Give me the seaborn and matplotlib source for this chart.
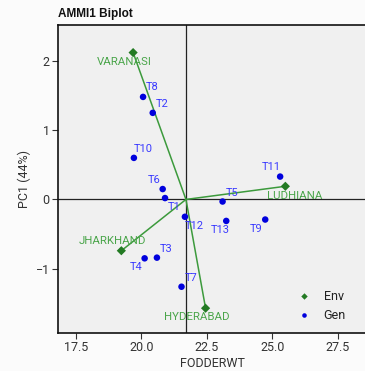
import matplotlib
matplotlib.use("Agg")
import matplotlib.pyplot as plt
import seaborn as sns
import pandas as pd

# Data
env_names = ["VARANASI", "LUDHIANA", "JHARKHAND", "HYDERABAD"]
env_x = [19.68, 25.50, 19.23, 22.45]
env_y = [2.12, 0.19, -0.74, -1.57]

gen_names = ["T1", "T2", "T3", "T4", "T5", "T6", "T7", "T8", "T9", "T10", "T11", "T12", "T13"]
gen_x = [20.90, 20.43, 20.59, 20.12, 23.10, 20.81, 21.53, 20.06, 24.73, 19.71, 25.30, 21.66, 23.24]
gen_y = [0.02, 1.25, -0.84, -0.85, -0.03, 0.15, -1.26, 1.48, -0.29, 0.60, 0.33, -0.25, -0.31]

grand_mean = 21.70
x_ticks = [17.5, 20.0, 22.5, 25.0, 27.5]
y_ticks = [-1, 0, 1, 2]

# label offsets in points (style only)
gen_off = {"T1": (6.5, -6.5), "T2": (6.7, 6.5), "T3": (7, 6), "T4": (-6.2, -6.5), "T5": (6.7, 6),
           "T6": (-6.2, 6.2), "T7": (6.7, 6.2), "T8": (6.7, 6.8), "T9": (-6.2, -6.7), "T10": (6.7, 6.5),
           "T11": (-6.2, 6.7), "T12": (6.7, -7), "T13": (-4, -6.5)}
env_off = {"VARANASI": (-6.5, -7), "LUDHIANA": (6.5, -6.7), "JHARKHAND": (-6.5, 6.7), "HYDERABAD": (-6.5, -6.2)}

sns.set_theme(style="white")
plt.rcParams['font.family'] = ['Roboto', 'DejaVu Sans']

df = pd.DataFrame({
    "x": env_x + gen_x,
    "y": env_y + gen_y,
    "type": ["Env"] * len(env_x) + ["Gen"] * len(gen_x),
})

fig = plt.figure(figsize=(3.65, 3.71), dpi=100)
fig.patch.set_facecolor("#fbfbfb")
ax = fig.add_axes([0.159, 0.102, 0.845, 0.831])
ax.set_facecolor("#f0f0f0")

ax.axvline(grand_mean, color="#222222", lw=0.9, zorder=1)
ax.axhline(0, color="#222222", lw=0.9, zorder=1)

for xe, ye in zip(env_x, env_y):
    ax.plot([grand_mean, xe], [0, ye], color="#3c9a3c", lw=1.1, zorder=2)

sns.scatterplot(data=df, x="x", y="y", hue="type", style="type",
                palette={"Env": "#237a23", "Gen": "#0000dd"},
                markers={"Env": "D", "Gen": "o"},
                s=22, edgecolor="none", ax=ax, zorder=3)

for n, xg, yg in zip(gen_names, gen_x, gen_y):
    dx, dy = gen_off[n]
    ax.annotate(n, (xg, yg), xytext=(dx, dy), textcoords="offset points",
                ha="center", va="center", fontsize=8, color="#3a3aff")
for n, xe, ye in zip(env_names, env_x, env_y):
    dx, dy = env_off[n]
    ax.annotate(n, (xe, ye), xytext=(dx, dy), textcoords="offset points",
                ha="center", va="center", fontsize=8.2, color="#4aa54a")

ax.set_xlim(16.81, 28.6)
ax.set_ylim(-1.93, 2.52)
ax.set_xticks(x_ticks)
ax.set_xticklabels([f"{v:.1f}" for v in x_ticks])
ax.set_yticks(y_ticks)
ax.set_yticklabels(["\u22121", "0", "1", "2"])
ax.tick_params(axis="both", length=4, width=0.8, color="#333333", labelsize=9,
               labelcolor="#333333", direction="out", left=True, bottom=True, pad=2)
ax.set_xlabel("FODDERWT", fontsize=9, color="#333333", labelpad=2)
ax.set_ylabel("PC1 (44%)", fontsize=9, color="#333333", labelpad=3)
for side in ["left", "bottom", "top"]:
    ax.spines[side].set_visible(True)
    ax.spines[side].set_color("#111111")
    ax.spines[side].set_linewidth(1.2)
ax.spines["right"].set_visible(False)

leg = ax.legend(loc="lower right", bbox_to_anchor=(0.97, 0.0), frameon=False,
                fontsize=9, handletextpad=0.6, markerscale=0.7, labelspacing=0.45)
for t in leg.get_texts():
    t.set_color("#222222")

fig.text(0.159, 0.962, "AMMI1 Biplot", fontsize=8.5, fontweight="bold", ha="left", va="center",
         color="#111111", family=["Liberation Sans", "DejaVu Sans"])

fig.savefig("out.png", dpi=100, facecolor=fig.get_facecolor())
